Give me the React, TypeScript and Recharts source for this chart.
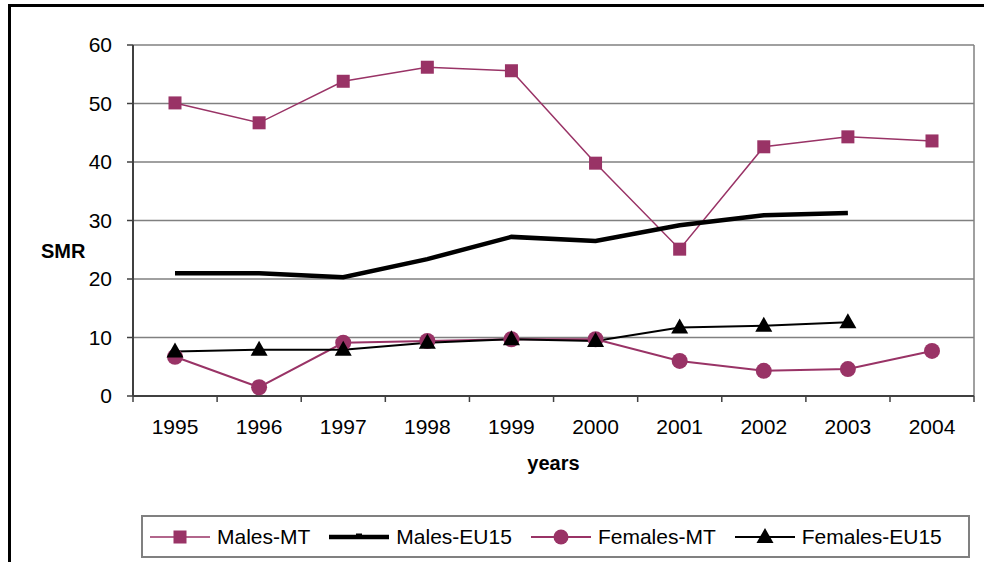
import React from 'react';
import { LineChart, Line, XAxis, YAxis, CartesianGrid, Legend } from 'recharts';

const years = ['1995', '1996', '1997', '1998', '1999', '2000', '2001', '2002', '2003', '2004'];
const malesMT = [50.1, 46.7, 53.8, 56.2, 55.6, 39.8, 25.1, 42.6, 44.3, 43.6];
const malesEU15 = [21.0, 21.0, 20.3, 23.4, 27.2, 26.5, 29.2, 30.9, 31.3, null];
const femalesMT = [6.7, 1.5, 9.1, 9.4, 9.7, 9.7, 6.0, 4.3, 4.6, 7.7];
const femalesEU15 = [7.6, 7.9, 7.9, 9.1, 9.7, 9.4, 11.7, 12.0, 12.6, null];
const yTicks = [0, 10, 20, 30, 40, 50, 60];

const data = years.map((y, i) => ({
  year: y,
  malesMT: malesMT[i],
  malesEU15: malesEU15[i],
  femalesMT: femalesMT[i],
  femalesEU15: femalesEU15[i],
}));

const PLUM = '#993366';
const FONT = '"Liberation Sans", Arial, sans-serif';
const HALF_STEP = 42;

const Square = ({ cx, cy }: any) =>
  cx == null || cy == null ? null : <rect x={cx - 6.5} y={cy - 6.5} width={13} height={13} fill={PLUM} />;
const Circle = ({ cx, cy }: any) =>
  cx == null || cy == null ? null : <circle cx={cx} cy={cy} r={8} fill={PLUM} />;
const Triangle = ({ cx, cy }: any) =>
  cx == null || cy == null ? null : (
    <path d={`M${cx},${cy - 9} L${cx + 8.5},${cy + 6} L${cx - 8.5},${cy + 6} Z`} fill="#000" />
  );

const YearTick = ({ x, y, payload, index }: any) => (
  <g>
    <line x1={x - HALF_STEP} y1={y} x2={x - HALF_STEP} y2={y + 6} stroke="#404040" strokeWidth={1.5} />
    {index === years.length - 1 && (
      <line x1={x + HALF_STEP} y1={y} x2={x + HALF_STEP} y2={y + 6} stroke="#404040" strokeWidth={1.5} />
    )}
    <text x={x} y={y + 38} textAnchor="middle" fontSize={21} fontFamily={FONT} fill="#000">
      {payload.value}
    </text>
  </g>
);

const SmrLabel = ({ viewBox }: any) => (
  <text
    x={viewBox.x + 41}
    y={viewBox.y + viewBox.height / 2 + 37}
    fontSize={20}
    fontWeight="bold"
    fontFamily={FONT}
    fill="#000"
  >
    SMR
  </text>
);

const legendItems = [
  { name: 'Males-MT', color: PLUM, width: 1.5, marker: 'square' },
  { name: 'Males-EU15', color: '#000', width: 4.5, marker: 'dash' },
  { name: 'Females-MT', color: PLUM, width: 2, marker: 'circle' },
  { name: 'Females-EU15', color: '#000', width: 2, marker: 'triangle' },
];

const LegendIcon = ({ color, width, marker }: any) => (
  <svg width={60} height={20} style={{ display: 'block' }}>
    <line x1={0} y1={10} x2={60} y2={10} stroke={color} strokeWidth={width} />
    {marker === 'square' && <rect x={23.5} y={3.5} width={13} height={13} fill={PLUM} />}
    {marker === 'circle' && <circle cx={30} cy={10} r={7.5} fill={PLUM} />}
    {marker === 'triangle' && <path d="M30,1 L38.5,16 L21.5,16 Z" fill="#000" />}
    {marker === 'dash' && <rect x={27} y={6.5} width={6} height={3} fill="#000" />}
  </svg>
);

const LegendBox = () => (
  <div
    style={{
      boxSizing: 'border-box',
      width: 829,
      height: 43,
      border: '2px solid #808080',
      background: '#fff',
      display: 'flex',
      alignItems: 'center',
      paddingLeft: 7,
      gap: 19,
      fontFamily: FONT,
      fontSize: 21,
      color: '#000',
      whiteSpace: 'nowrap',
    }}
  >
    {legendItems.map((it) => (
      <div key={it.name} style={{ display: 'flex', alignItems: 'center', gap: 7 }}>
        <LegendIcon color={it.color} width={it.width} marker={it.marker} />
        <span>{it.name}</span>
      </div>
    ))}
  </div>
);

export default function App() {
  return (
    <div style={{ position: 'relative', width: 984, height: 562, overflow: 'hidden', background: '#fff' }}>
      <style>{`body{margin:0;overflow:hidden}`}</style>
      <div
        style={{
          position: 'absolute',
          left: 8,
          top: 4,
          width: 1100,
          height: 700,
          borderTop: '3px solid #000',
          borderLeft: '3px solid #000',
        }}
      />
      <div style={{ position: 'absolute', left: 0, top: 0 }}>
        <LineChart width={984} height={562} data={data} margin={{ top: 45, right: 10, left: 0, bottom: 76 }}>
          <CartesianGrid
            stroke="#808080"
            strokeWidth={1.5}
            verticalCoordinatesGenerator={({ offset }: any) => [offset.left + offset.width]}
          />
          <XAxis
            dataKey="year"
            padding={{ left: HALF_STEP, right: HALF_STEP }}
            height={90}
            tickSize={0}
            tickMargin={0}
            axisLine={{ stroke: '#404040', strokeWidth: 2 }}
            tick={<YearTick />}
            interval={0}
            label={{
              value: 'years',
              position: 'insideBottom',
              offset: 16,
              fontSize: 20,
              fontWeight: 'bold',
              fontFamily: FONT,
              fill: '#000',
            }}
          />
          <YAxis
            domain={[0, 60]}
            ticks={yTicks}
            width={133}
            tickSize={6}
            tickMargin={15}
            tickLine={{ stroke: '#404040', strokeWidth: 1.5 }}
            axisLine={{ stroke: '#404040', strokeWidth: 2 }}
            tick={{ fontSize: 21, fontFamily: FONT, fill: '#000' }}
            label={<SmrLabel />}
          />
          <Legend
            layout="horizontal"
            verticalAlign="middle"
            align="center"
            content={<LegendBox />}
            wrapperStyle={{ left: 141, top: 515, bottom: 'auto', right: 'auto', width: 829, height: 43 }}
          />
          <Line
            dataKey="malesMT"
            name="Males-MT"
            stroke={PLUM}
            strokeWidth={1.5}
            dot={<Square />}
            isAnimationActive={false}
          />
          <Line
            dataKey="malesEU15"
            name="Males-EU15"
            stroke="#000"
            strokeWidth={4.5}
            dot={false}
            isAnimationActive={false}
          />
          <Line
            dataKey="femalesMT"
            name="Females-MT"
            stroke={PLUM}
            strokeWidth={2}
            dot={<Circle />}
            isAnimationActive={false}
          />
          <Line
            dataKey="femalesEU15"
            name="Females-EU15"
            stroke="#000"
            strokeWidth={2}
            dot={<Triangle />}
            isAnimationActive={false}
          />
        </LineChart>
      </div>
    </div>
  );
}
